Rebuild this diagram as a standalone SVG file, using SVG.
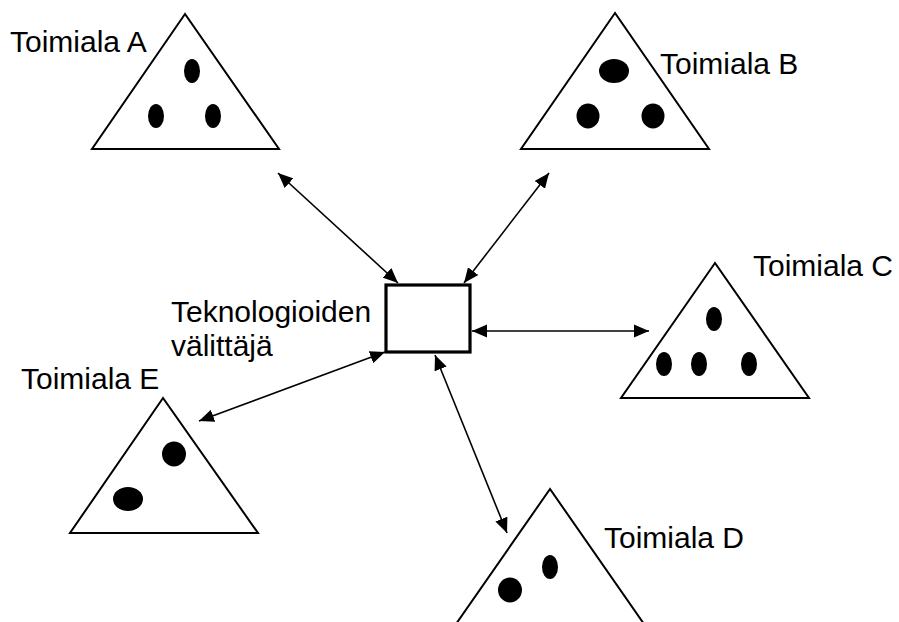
<svg xmlns="http://www.w3.org/2000/svg" width="899" height="622" viewBox="0 0 899 622">
  <style>
    .tri { fill: #fff; stroke: #000; stroke-width: 2; stroke-linejoin: miter; }
    .dot { fill: #000; }
    .lbl { font-family: "Liberation Sans", Arial, sans-serif; font-size: 30px; fill: #000; }
    .link { stroke: #000; stroke-width: 1.6; fill: none; marker-start: url(#arr); marker-end: url(#arr); }
    .hub { fill: #fff; stroke: #000; stroke-width: 3.2; }
  </style>
  <defs>
    <marker id="arr" markerUnits="userSpaceOnUse" markerWidth="16" markerHeight="14" viewBox="0 0 16 14" refX="15" refY="7" orient="auto-start-reverse">
      <path d="M0,0.5 L15,7 L0,13.5 Z" fill="#000"/>
    </marker>
  </defs>
  <rect width="899" height="622" fill="#fff"/>

  <g id="connectors">
    <line class="link" x1="278" y1="173" x2="398" y2="283"/>
    <line class="link" x1="549" y1="173" x2="464" y2="283"/>
    <line class="link" x1="472" y1="331" x2="649" y2="331"/>
    <line class="link" x1="385" y1="352" x2="199" y2="421"/>
    <line class="link" x1="435" y1="355" x2="507" y2="533"/>
  </g>

  <g id="hub">
    <rect class="hub" x="386" y="285" width="84" height="67"/>
    <text class="lbl" x="171" y="322">Teknologioiden</text>
    <text class="lbl" x="171" y="356">välittäjä</text>
  </g>

  <g id="toimiala-a">
    <polygon class="tri" points="185,14 92,149 279,149"/>
    <ellipse class="dot" cx="192" cy="71" rx="8" ry="12"/>
    <ellipse class="dot" cx="156" cy="116" rx="8" ry="12"/>
    <ellipse class="dot" cx="213" cy="116" rx="8" ry="12"/>
    <text class="lbl" x="10" y="52">Toimiala A</text>
  </g>

  <g id="toimiala-b">
    <polygon class="tri" points="615,13 521,149 709,149"/>
    <ellipse class="dot" cx="614" cy="71" rx="15" ry="12"/>
    <ellipse class="dot" cx="588" cy="116" rx="11.5" ry="12.5"/>
    <ellipse class="dot" cx="653" cy="116" rx="11.5" ry="12.5"/>
    <text class="lbl" x="660" y="74">Toimiala B</text>
  </g>

  <g id="toimiala-c">
    <polygon class="tri" points="715,263 621,398 809,398"/>
    <ellipse class="dot" cx="714" cy="319" rx="8" ry="12"/>
    <ellipse class="dot" cx="664" cy="364" rx="8" ry="12"/>
    <ellipse class="dot" cx="699" cy="364" rx="8" ry="12"/>
    <ellipse class="dot" cx="749" cy="364" rx="8" ry="12"/>
    <text class="lbl" x="753" y="276">Toimiala C</text>
  </g>

  <g id="toimiala-d">
    <polygon class="tri" points="550,489 456,624 644,624"/>
    <ellipse class="dot" cx="550" cy="567" rx="8" ry="12"/>
    <ellipse class="dot" cx="510" cy="590" rx="12" ry="12.5"/>
    <text class="lbl" x="604" y="548">Toimiala D</text>
  </g>

  <g id="toimiala-e">
    <polygon class="tri" points="163,398 70,533 258,533"/>
    <ellipse class="dot" cx="174" cy="454" rx="12" ry="12.5"/>
    <ellipse class="dot" cx="128" cy="499" rx="15" ry="12"/>
    <text class="lbl" x="21" y="389">Toimiala E</text>
  </g>
</svg>
